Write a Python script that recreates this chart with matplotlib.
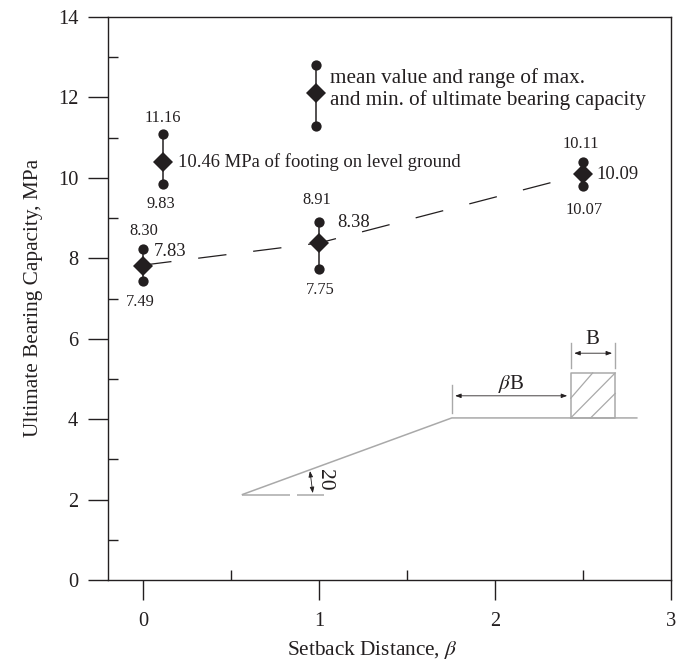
import matplotlib
matplotlib.use("Agg")
import matplotlib.pyplot as plt
from matplotlib.ticker import MultipleLocator

plt.rcParams['font.family'] = ['Liberation Serif', 'DejaVu Serif']
plt.rcParams['mathtext.fontset'] = 'stix'
plt.rcParams['lines.scale_dashes'] = False

INK = '#231f20'
GREY = '#a9a9a9'

# chart data
trend_x = [0, 1, 2.5]
trend_mean = [7.83, 8.38, 10.09]
group_x = [0, 0.115, 1, 2.5, 0.98]
group_mean = [7.8, 10.39, 8.37, 10.09, 12.1]
group_max = [8.23, 11.08, 8.9, 10.4, 12.8]
group_min = [7.44, 9.84, 7.73, 9.8, 11.29]

small_labels = [("11.16", 0.112, 11.5), ("9.83", 0.10, 9.35), ("8.30", 0.006, 8.68),
                ("7.49", -0.015, 6.92), ("8.91", 0.987, 9.45), ("7.75", 1.006, 7.2),
                ("10.11", 2.489, 10.85), ("10.07", 2.506, 9.2)]
big_labels = [("7.83", 0.059, 8.17), ("8.38", 1.104, 8.89), ("10.09", 2.574, 10.09)]
notes = [("10.46 MPa of footing on level ground", 0.2, 10.39, 13.4),
         ("mean value and range of max.", 1.0625, 12.48, 15.2),
         ("and min. of ultimate bearing capacity", 1.0625, 11.94, 15.2)]

# inset sketch
ground_x = [0.56, 1.754, 2.81]
ground_y = [2.12, 4.03, 4.03]
base_runs = [(0.56, 0.834), (0.873, 1.03)]
base_y = 2.12
box_x = [2.43, 2.683, 2.683, 2.43, 2.43]
box_y = [4.03, 4.03, 5.15, 5.15, 4.03]
hatch = [((2.43, 4.52), (2.555, 5.15)), ((2.43, 4.03), (2.683, 5.15)), ((2.543, 4.03), (2.683, 4.64))]
fences = [(1.754, 4.16, 4.85), (2.43, 5.27, 5.9), (2.683, 5.27, 5.9)]
arrows = [((1.773, 4.58), (2.41, 4.58)), ((2.45, 5.64), (2.665, 5.64)), ((0.948, 2.71), (0.964, 2.16))]

fig = plt.figure(figsize=(6.91, 6.62), dpi=100)
ax = fig.add_axes([108 / 691, (662 - 580) / 662, (671 - 108) / 691, (580 - 17) / 662])
ax.set_xlim(-0.2, 3)
ax.set_ylim(0, 14)
for s in ('left', 'bottom', 'top', 'right'):
    ax.spines[s].set_linewidth(1.0)
    ax.spines[s].set_color(INK)

ax.xaxis.set_major_locator(MultipleLocator(1))
ax.xaxis.set_minor_locator(MultipleLocator(0.5))
ax.yaxis.set_major_locator(MultipleLocator(2))
ax.yaxis.set_minor_locator(MultipleLocator(1))
ax.tick_params(which='major', direction='out', length=14.4, width=1.0, color=INK,
               labelcolor=INK, labelsize=14.7, pad=7)
ax.tick_params(axis='x', which='major', pad=9)
ax.tick_params(which='minor', direction='in', length=7.2, width=1.0, color=INK)
ax.set_xlabel(r"Setback Distance, $\beta$", fontsize=15.3, color=INK, va='center')
ax.set_ylabel("Ultimate Bearing Capacity, MPa", fontsize=15.3, color=INK, va='center')
ax.xaxis.set_label_coords(0.469, (580 - 650) / 563)
ax.yaxis.set_label_coords((34 - 108) / 563, 0.501)

# sketch
ax.plot(ground_x, ground_y, color=GREY, lw=1.1, solid_capstyle='butt')
for a, b in base_runs:
    ax.plot([a, b], [base_y, base_y], color=GREY, lw=1.1, solid_capstyle='butt')
ax.plot(box_x, box_y, color=GREY, lw=1.1)
for p, q in hatch:
    ax.plot([p[0], q[0]], [p[1], q[1]], color=GREY, lw=0.9)
for x, y0, y1 in fences:
    ax.plot([x, x], [y0, y1], color=GREY, lw=1.0)
for p, q in arrows:
    ax.annotate("", xy=q, xytext=p,
                arrowprops=dict(arrowstyle="<|-|>,head_width=0.13,head_length=0.35",
                                color=INK, lw=0.6, shrinkA=0, shrinkB=0))
ax.text(2.093, 4.88, r"$\beta$B", fontsize=15, color=INK, ha='center', va='center')
ax.text(2.55, 5.97, "B", fontsize=15, color=INK, ha='center', va='center')
ax.text(1.03, 2.49, "20", fontsize=15.5, color=INK, rotation=-90, ha='center', va='center')

# data
ax.plot(trend_x, trend_mean, color=INK, lw=0.9, ls=(0, (20.5, 19.4)), dash_capstyle='butt')
for x, m, hi, lo in zip(group_x, group_mean, group_max, group_min):
    ax.plot([x, x], [lo, hi], color=INK, lw=1.1, zorder=3)
    ax.plot([x, x], [lo, hi], ls='none', marker='o', ms=7.4, color=INK, mew=0, zorder=4)
    ax.plot([x], [m], ls='none', marker='D', ms=9.8, color=INK, mew=0, zorder=5)

for t, x, y in small_labels:
    ax.text(x, y, t, fontsize=11.8, color=INK, ha='center', va='center')
for t, x, y in big_labels:
    ax.text(x, y, t, fontsize=13.3, color=INK, ha='left', va='center')
for t, x, y, size in notes:
    ax.text(x, y, t, fontsize=size, color=INK, ha='left', va='center')

fig.savefig("out.png", dpi=100)
